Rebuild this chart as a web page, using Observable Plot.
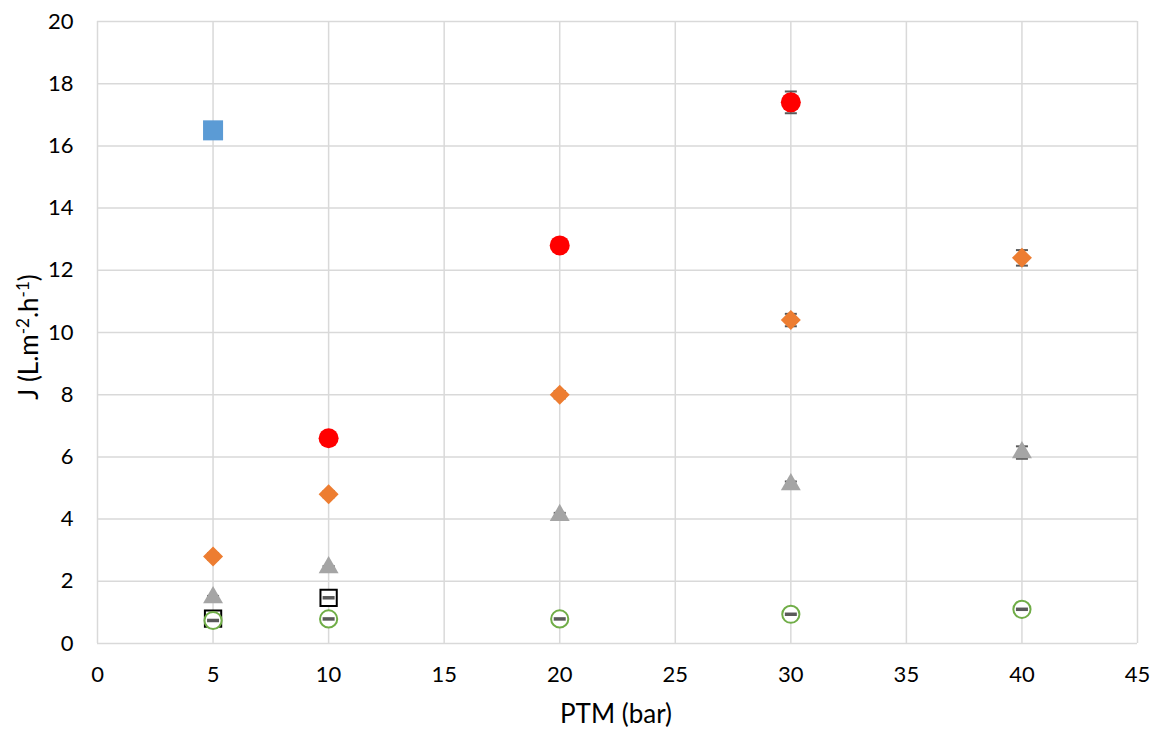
<!DOCTYPE html>
<html><head><meta charset="utf-8">
<script src="https://cdn.jsdelivr.net/npm/d3@7"></script>
<script src="https://cdn.jsdelivr.net/npm/@observablehq/plot@0.6"></script>
<style>body{margin:0;background:#fff;}</style>
</head><body><div id="chart"></div>
<script>
// Tick values
const xTicks = [0, 5, 10, 15, 20, 25, 30, 35, 40, 45];
const yTicks = [0, 2, 4, 6, 8, 10, 12, 14, 16, 18, 20];
const xTitle = "PTM (bar)";

// Series (x = PTM in bar, y = flux J, e = error)
const blueX = [5], blueY = [16.5], blueErr = [0.22];
const redX = [10, 20, 30], redY = [6.6, 12.8, 17.4], redErr = [0.15, 0.2, 0.35];
const orangeX = [5, 10, 20, 30, 40], orangeY = [2.8, 4.8, 8.0, 10.4, 12.4], orangeErr = [0.1, 0.1, 0.12, 0.2, 0.25];
const grayX = [5, 10, 20, 30, 40], grayY = [1.48, 2.44, 4.12, 5.11, 6.14], grayErr = [0.05, 0.05, 0.08, 0.1, 0.2];
const blackX = [5, 10], blackY = [0.8, 1.47], blackErr = [0.02, 0.02];
const greenX = [5, 10, 20, 30, 40], greenY = [0.74, 0.79, 0.79, 0.94, 1.1], greenErr = [0.02, 0.02, 0.02, 0.02, 0.02];

const rows = (xs, ys, es) => xs.map((x, i) => ({x, y: ys[i], e: es[i]}));
const blue = rows(blueX, blueY, blueErr);
const red = rows(redX, redY, redErr);
const orange = rows(orangeX, orangeY, orangeErr);
const gray = rows(grayX, grayY, grayErr);
const black = rows(blackX, blackY, blackErr);
const green = rows(greenX, greenY, greenErr);

const capSym = {draw(ctx) { ctx.moveTo(-6, 0); ctx.lineTo(6, 0); }};
const dashSym = {draw(ctx) { ctx.moveTo(-6, 0); ctx.lineTo(6, 0); }};
const errColor = "#595959";

function errBars(data) {
  return [
    Plot.ruleX(data, {x: "x", y1: d => d.y - d.e, y2: d => d.y + d.e, stroke: errColor, strokeWidth: 1.5}),
    Plot.dot(data, {x: "x", y: d => d.y + d.e, symbol: capSym, stroke: errColor, strokeWidth: 2, fill: "none"}),
    Plot.dot(data, {x: "x", y: d => d.y - d.e, symbol: capSym, stroke: errColor, strokeWidth: 2, fill: "none"})
  ];
}
function dash(data) {
  return Plot.dot(data, {x: "x", y: "y", symbol: dashSym, stroke: errColor, strokeWidth: 3.5, fill: "none"});
}

const chart = Plot.plot({
  width: 1159,
  height: 734,
  marginLeft: 97,
  marginRight: 22,
  marginTop: 21,
  marginBottom: 91,
  style: {fontFamily: "Lato, sans-serif", fontSize: "22px", color: "#000", background: "#fff"},
  x: {domain: [0, 45]},
  y: {domain: [0, 20]},
  marks: [
    Plot.gridX(xTicks, {stroke: "#d9d9d9", strokeOpacity: 1, strokeWidth: 1.5}),
    Plot.gridY(yTicks, {stroke: "#d9d9d9", strokeOpacity: 1, strokeWidth: 1.5}),
    Plot.axisX(xTicks, {tickSize: 0, tickPadding: 23, label: null}),
    Plot.axisY(yTicks, {tickSize: 0, tickPadding: 24, label: null}),
    ...errBars(blue),
    Plot.dot(blue, {x: "x", y: "y", symbol: "square", r: 11.3, fill: "#5b9bd5"}),
    ...errBars(red),
    Plot.dot(red, {x: "x", y: "y", symbol: "circle", r: 10, fill: "#ff0000"}),
    ...errBars(orange),
    Plot.dot(orange, {x: "x", y: "y", symbol: "diamond2", r: 9, fill: "#ed7d31"}),
    ...errBars(gray),
    Plot.dot(gray, {x: "x", y: "y", symbol: "triangle", r: 7.4, fill: "#a5a5a5"}),
    Plot.dot(black, {x: "x", y: "y", symbol: "square", r: 9.2, fill: "#fff", stroke: "#000", strokeWidth: 2}),
    dash(black),
    Plot.dot(green, {x: "x", y: "y", symbol: "circle", r: 8.6, fill: "#fff", stroke: "#70ad47", strokeWidth: 2}),
    dash(green)
  ]
});

const svg = d3.select(chart);
svg.selectAll("text").style("font-size", "22px").style("font-family", "Lato, sans-serif");
svg.selectAll("g").filter(function() { return this.querySelector("text"); }).style("font-size", "22px");

svg.append("text")
  .attr("x", 616)
  .attr("y", 723)
  .attr("text-anchor", "middle")
  .style("font-size", "26px")
  .attr("fill", "#000")
  .text(xTitle);

const yt = svg.append("text")
  .attr("transform", "translate(38,337) rotate(-90)")
  .attr("text-anchor", "middle")
  .style("font-size", "26px")
  .attr("fill", "#000");
yt.append("tspan").text("J (L.m");
yt.append("tspan").attr("dy", -9).style("font-size", "17px").text("-2");
yt.append("tspan").attr("dy", 9).text(".h");
yt.append("tspan").attr("dy", -9).style("font-size", "17px").text("-1");
yt.append("tspan").attr("dy", 9).text(")");

document.getElementById("chart").appendChild(chart);
</script>
</body></html>
